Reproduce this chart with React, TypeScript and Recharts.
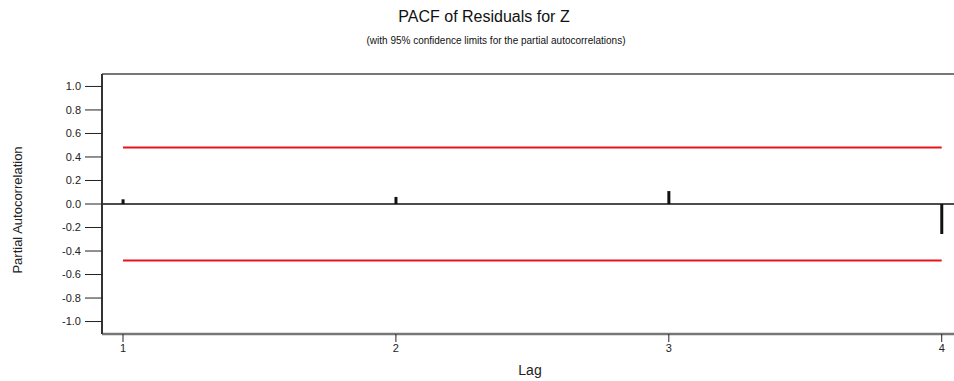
import {
  ComposedChart, Bar, Line, XAxis, YAxis, ReferenceLine,
} from 'recharts';

const lags = [1, 2, 3, 4];
const pacf = [0.04, 0.06, 0.11, -0.255];
const upperLimit = [0.48, 0.48, 0.48, 0.48];
const lowerLimit = [-0.48, -0.48, -0.48, -0.48];
const yTicks = [-1, -0.8, -0.6, -0.4, -0.2, 0, 0.2, 0.4, 0.6, 0.8, 1];

const data = lags.map((lag, i) => ({
  lag,
  pacf: pacf[i],
  upper: upperLimit[i],
  lower: lowerLimit[i],
}));

const font = '"Liberation Sans", Arial, sans-serif';
const Y_MAX = 1.106;

export default function App() {
  return (
    <div style={{ position: 'absolute', left: 0, top: 0, width: 954, height: 381, fontFamily: font, background: '#fff' }}>
      <div style={{ position: 'absolute', left: 0, width: 968, top: 8, textAlign: 'center', fontSize: 16, color: '#111' }}>
        PACF of Residuals for Z
      </div>
      <div style={{ position: 'absolute', left: 0, width: 992, top: 35, textAlign: 'center', fontSize: 10, color: '#111' }}>
        (with 95% confidence limits for the partial autocorrelations)
      </div>
      <div
        style={{
          position: 'absolute', left: 17, top: 210, fontSize: 13, color: '#222', whiteSpace: 'nowrap',
          transform: 'translate(-50%, -50%) rotate(-90deg)',
        }}
      >
        Partial Autocorrelation
      </div>
      <div style={{ position: 'absolute', left: 530, top: 370, transform: 'translate(-50%, -50%)', fontSize: 14, color: '#222' }}>
        Lag
      </div>
      <div style={{ position: 'absolute', left: 0, top: 0 }}>
        <ComposedChart width={954} height={381} data={data} margin={{ top: 74, right: 0, bottom: 17, left: 42 }}>
          <XAxis
            dataKey="lag"
            type="number"
            domain={[0.923, 4.045]}
            ticks={lags}
            allowDataOverflow
            height={30}
            tickSize={8}
            tickMargin={2}
            axisLine={{ stroke: '#777', strokeWidth: 2.5 }}
            tickLine={{ stroke: '#222', strokeWidth: 1 }}
            tick={{ fill: '#222', fontSize: 11, fontFamily: font }}
          />
          <YAxis
            type="number"
            domain={[-Y_MAX, Y_MAX]}
            ticks={yTicks}
            allowDataOverflow
            width={60}
            tickSize={17}
            tickMargin={4}
            tickFormatter={(v: number) => v.toFixed(1)}
            axisLine={{ stroke: '#333', strokeWidth: 2 }}
            tickLine={{ stroke: '#222', strokeWidth: 1 }}
            tick={{ fill: '#222', fontSize: 11, fontFamily: font }}
          />
          <ReferenceLine y={Y_MAX} stroke="#777" strokeWidth={2} />
          <ReferenceLine y={0} stroke="#111" strokeWidth={1.5} />
          <Bar dataKey="pacf" barSize={3} fill="#111" isAnimationActive={false} />
          <Line dataKey="upper" stroke="#e8141b" strokeWidth={2} dot={false} activeDot={false} isAnimationActive={false} />
          <Line dataKey="lower" stroke="#e8141b" strokeWidth={2} dot={false} activeDot={false} isAnimationActive={false} />
        </ComposedChart>
      </div>
    </div>
  );
}
